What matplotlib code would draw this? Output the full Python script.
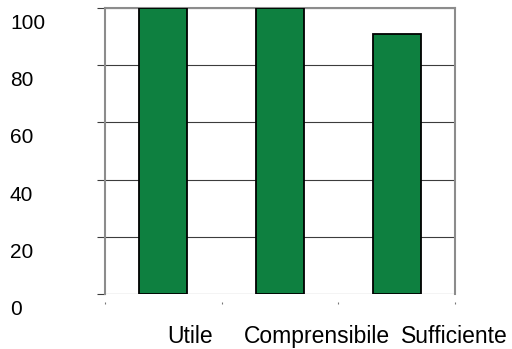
import numpy as np
import matplotlib.pyplot as plt
from matplotlib.transforms import ScaledTranslation

plt.rcParams['font.family'] = ['Liberation Sans', 'DejaVu Sans']

# --- data ---
categories = ["Utile", "Comprensibile", "Sufficiente"]
values = [100, 100, 91]
yticks = [0, 20, 40, 60, 80, 100]

BAR_COLOR = "#0e8040"
GRID_COLOR = "#3c3c3c"
FRAME_COLOR = "#8c8c8c"

fig = plt.figure(figsize=(5.12, 3.49), dpi=100)
ax = fig.add_axes([105 / 512, 55 / 349, 350 / 512, 286 / 349])

x = np.arange(len(categories))
ax.bar(x, values, width=0.41, color=BAR_COLOR, edgecolor="black", linewidth=1.3, zorder=3)

ax.set_xlim(-0.5, len(categories) - 0.5)
ax.set_ylim(0, 100)

# horizontal grid, frame on left/right/top only
ax.set_yticks(yticks)
ax.yaxis.grid(True, color=GRID_COLOR, linewidth=0.8)
ax.set_axisbelow(True)
for side in ["left", "right", "top"]:
    ax.spines[side].set_color(FRAME_COLOR)
    ax.spines[side].set_linewidth(1.5)
ax.spines["bottom"].set_visible(False)
ax.spines["bottom"].set_position(("outward", 5.5))

# y labels sit left-aligned at the figure edge, a bit below their gridline
ax.tick_params(axis="y", length=5.8, width=0.8, color=GRID_COLOR, pad=62.6, labelsize=15)
dy = ScaledTranslation(0, -13.5 / 100, fig.dpi_scale_trans)
for lab in ax.get_yticklabels():
    lab.set_horizontalalignment("left")
    lab.set_transform(lab.get_transform() + dy)

# x: small boundary dots under the plot, labels further down
ax.set_xticks(np.arange(-0.5, len(categories)), minor=True)
ax.tick_params(axis="x", which="minor", length=1.2, width=0.8, color="#777777")
ax.set_xticks(x)
ax.set_xticklabels(categories, fontsize=16.5)
ax.tick_params(axis="x", which="major", length=0, pad=17)
x_shift = [27, 37, 58]
for lab, s in zip(ax.get_xticklabels(), x_shift):
    lab.set_transform(lab.get_transform() + ScaledTranslation(s / 100, 0, fig.dpi_scale_trans))

fig.savefig("out.png", dpi=100)
